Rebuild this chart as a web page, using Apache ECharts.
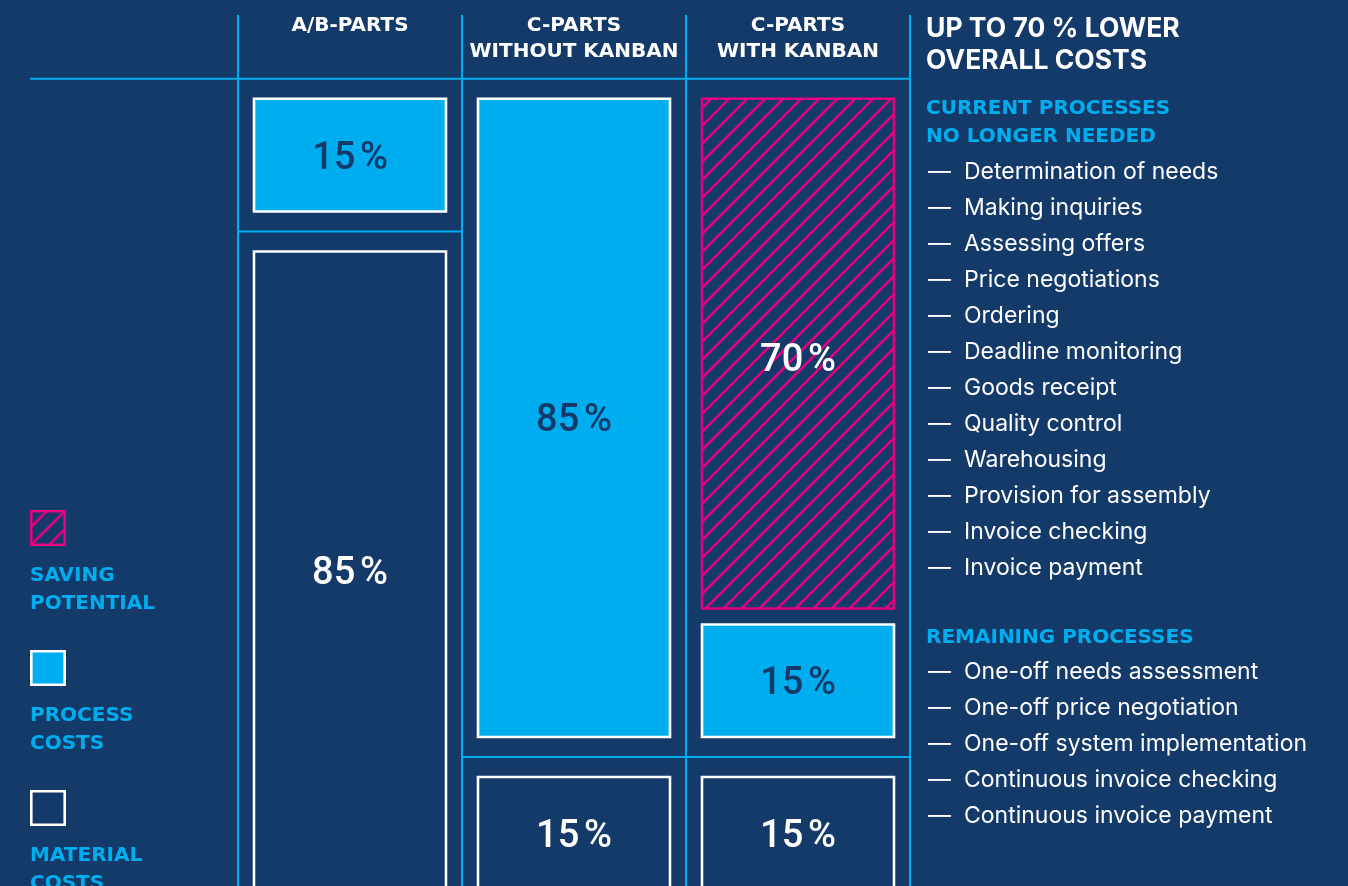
<!DOCTYPE html>
<html>
<head>
<meta charset="utf-8">
<script src="https://cdn.jsdelivr.net/npm/echarts@6/dist/echarts.min.js"></script>
<style>
html, body { margin: 0; padding: 0; background: #143a6a; }
#chart { width: 1348px; height: 886px; }
</style>
</head>
<body>
<div id="chart"></div>
<script>
// ---------- data ----------
const categories = ['A/B-PARTS', 'C-PARTS\nWITHOUT KANBAN', 'C-PARTS\nWITH KANBAN'];
const savingPotential = [0, 0, 70];
const processCosts = [15, 85, 15];
const materialCosts = [85, 15, 15];
const seriesNames = ['SAVING POTENTIAL', 'PROCESS COSTS', 'MATERIAL COSTS'];
const legendLabels = ['SAVING\nPOTENTIAL', 'PROCESS\nCOSTS', 'MATERIAL\nCOSTS'];
const panelTitle = 'UP TO 70 % LOWER\nOVERALL COSTS';
const currentHeading = 'CURRENT PROCESSES\nNO LONGER NEEDED';
const currentProcesses = [
  'Determination of needs', 'Making inquiries', 'Assessing offers', 'Price negotiations',
  'Ordering', 'Deadline monitoring', 'Goods receipt', 'Quality control', 'Warehousing',
  'Provision for assembly', 'Invoice checking', 'Invoice payment'
];
const remainingHeading = 'REMAINING PROCESSES';
const remainingProcesses = [
  'One-off needs assessment', 'One-off price negotiation', 'One-off system implementation',
  'Continuous invoice checking', 'Continuous invoice payment'
];

// ---------- style ----------
const NAVY = '#143a6a';
const CYAN = '#00aeef';
const MAGENTA = '#e6007e';
const WHITE = '#ffffff';
const CAPS_FONT = 'bold 20px "DejaVu Sans"';
const PAD_TOP = 20, GROUP_GAP = 40, INNER_GAP = 16, BOX_INSET = 16, LEFT_EDGE = 30;

function hatchCanvas() {
  const s = 18;
  const c = document.createElement('canvas');
  c.width = s; c.height = s;
  const g = c.getContext('2d');
  g.strokeStyle = MAGENTA; g.lineWidth = 2.6; g.lineCap = 'square';
  g.beginPath();
  g.moveTo(0, s); g.lineTo(s, 0);
  g.moveTo(-s / 2, s / 2); g.lineTo(s / 2, -s / 2);
  g.moveTo(s / 2, s * 1.5); g.lineTo(s * 1.5, s / 2);
  g.stroke();
  return c;
}
const hatch = { image: hatchCanvas(), repeat: 'repeat' };

const kinds = {
  saving:   { fill: hatch, stroke: MAGENTA, label: WHITE, group: 0 },
  process:  { fill: CYAN,  stroke: WHITE,   label: NAVY,  group: 0 },
  material: { fill: NAVY,  stroke: WHITE,   label: WHITE, group: 1 }
};

// cumulative [index, start, end, value]
function buildData(values, starts) {
  return values.map((v, i) => [i, starts[i], starts[i] + v, v]);
}
const zeros = categories.map(() => 0);
const savingData = buildData(savingPotential, zeros);
const processData = buildData(processCosts, savingPotential);
const materialData = buildData(materialCosts, savingPotential.map((s, i) => s + processCosts[i]));

function makeRender(kind) {
  const k = kinds[kind];
  return function (params, api) {
    const i = api.value(0), start = api.value(1), end = api.value(2), v = api.value(3);
    const cs = params.coordSys;
    const cx = api.coord([i, 0])[0];
    const bw = api.size([1, 0])[0];
    const children = [];
    if (kind === 'process' && params.dataIndex === 0) {
      const y0 = api.coord([0, 0])[1];
      children.push({ type: 'line', shape: { x1: LEFT_EDGE, y1: y0, x2: cs.x + cs.width, y2: y0 },
        style: { stroke: CYAN, lineWidth: 2 } });
    }
    if (kind === 'material') {
      const ySep = api.coord([i, start])[1] + PAD_TOP + GROUP_GAP / 2;
      children.push({ type: 'line', shape: { x1: cx - bw / 2, y1: ySep, x2: cx + bw / 2, y2: ySep },
        style: { stroke: CYAN, lineWidth: 2 } });
    }
    if (v > 0) {
      const off = PAD_TOP + k.group * GROUP_GAP;
      const yTop = api.coord([i, start])[1] + off;
      let yBot = api.coord([i, end])[1] + off;
      if (kind === 'saving') yBot -= INNER_GAP;
      const x = cx - bw / 2 + BOX_INSET;
      const w = bw - 2 * BOX_INSET;
      children.push({
        type: 'rect',
        shape: { x: x, y: yTop, width: w, height: yBot - yTop },
        style: { fill: k.fill, stroke: k.stroke, lineWidth: 2.6 },
        textContent: { style: { text: v + '\u202F%', fill: k.label, font: '500 38px Roboto' } },
        textConfig: { position: 'inside', offset: [0, kind === 'saving' ? 8 : 4] }
      });
    }
    return { type: 'group', children: children };
  };
}

// ---------- graphic: legend and text panel ----------
const graphics = [];
const legendTop = 510, legendStep = 140, legendSize = 36;
['saving', 'process', 'material'].forEach((kind, j) => {
  const k = kinds[kind];
  graphics.push({ type: 'rect', x: LEFT_EDGE, y: legendTop + j * legendStep,
    shape: { x: 1.3, y: 1.3, width: legendSize - 2.6, height: legendSize - 2.6 },
    style: { fill: k.fill, stroke: k.stroke, lineWidth: 2.6 } });
  graphics.push({ type: 'text', x: LEFT_EDGE, y: legendTop + j * legendStep + 52,
    style: { text: legendLabels[j], fill: CYAN, font: CAPS_FONT, lineHeight: 28, align: 'left', verticalAlign: 'top' } });
});
const panelX = 926;
graphics.push({ type: 'text', x: panelX, y: 13,
  style: { text: panelTitle, fill: WHITE, font: 'bold 26.5px Inter', lineHeight: 32, align: 'left', verticalAlign: 'top' } });
graphics.push({ type: 'text', x: panelX, y: 95,
  style: { text: currentHeading, fill: CYAN, font: CAPS_FONT, lineHeight: 28, align: 'left', verticalAlign: 'top' } });
const itemStep = 36;
function addItems(list, firstCenter) {
  list.forEach((t, j) => {
    const yc = firstCenter + j * itemStep;
    graphics.push({ type: 'text', x: panelX + 2, y: yc,
      style: { text: '\u2014', fill: WHITE, font: '23px Inter', align: 'left', verticalAlign: 'middle' } });
    graphics.push({ type: 'text', x: panelX + 38, y: yc,
      style: { text: t, fill: WHITE, font: '23px Inter', align: 'left', verticalAlign: 'middle' } });
  });
}
addItems(currentProcesses, 172);
graphics.push({ type: 'text', x: panelX, y: 624,
  style: { text: remainingHeading, fill: CYAN, font: CAPS_FONT, lineHeight: 28, align: 'left', verticalAlign: 'top' } });
addItems(remainingProcesses, 672);

// ---------- chart ----------
const chart = echarts.init(document.getElementById('chart'), null, { renderer: 'canvas' });
chart.setOption({
  backgroundColor: NAVY,
  animation: false,
  grid: { left: 238, right: 438, top: 15, height: 876 },
  xAxis: {
    type: 'category', data: categories, position: 'top',
    axisLine: { show: false }, axisTick: { show: false },
    splitLine: { show: true, lineStyle: { color: CYAN, width: 2 } },
    axisLabel: { inside: true, margin: -2, interval: 0, color: WHITE,
      fontFamily: 'DejaVu Sans', fontWeight: 'bold', fontSize: 20, lineHeight: 26 }
  },
  yAxis: { type: 'value', inverse: true, min: -8.5, max: 107.5, show: false },
  graphic: graphics,
  series: [
    { name: seriesNames[0], type: 'custom', renderItem: makeRender('saving'), data: savingData, encode: { x: 0, y: [1, 2] } },
    { name: seriesNames[1], type: 'custom', renderItem: makeRender('process'), data: processData, encode: { x: 0, y: [1, 2] } },
    { name: seriesNames[2], type: 'custom', renderItem: makeRender('material'), data: materialData, encode: { x: 0, y: [1, 2] } }
  ]
});
</script>
</body>
</html>
